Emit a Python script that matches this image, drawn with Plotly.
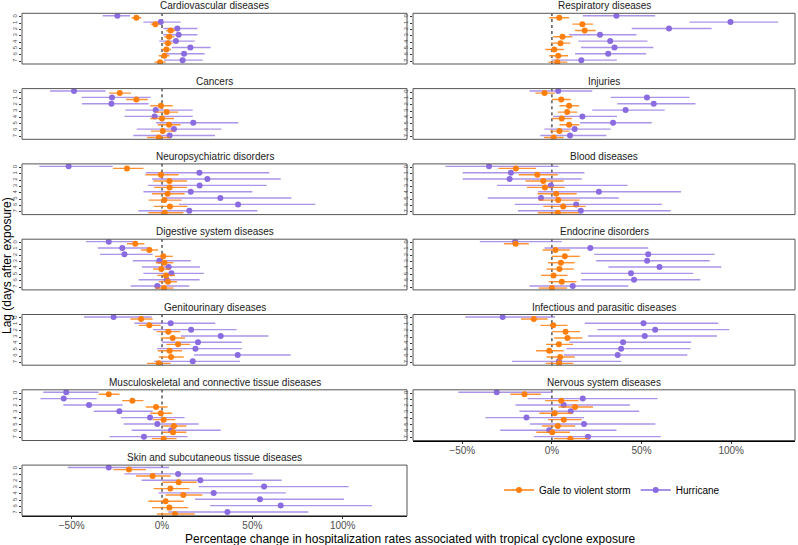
import plotly.graph_objects as go

LAGS = [0, 1, 2, 3, 4, 5, 6, 7]
X_TICKS = [-50, 0, 50, 100]
X_TICK_LABELS = ["−50%", "0%", "50%", "100%"]

# ---- Cardiovascular diseases ----
CARDIO_GALE = [-14.2, -3.7, 4.8, 3.9, 3.3, 2.4, 1.3, -1.1]
CARDIO_GALE_LO = [-16.8, -6.3, 2.2, 1.3, 0.7, -0.2, -1.8, -4.2]
CARDIO_GALE_HI = [-11.4, -1.3, 7.4, 6.8, 5.9, 5.0, 4.1, 2.0]
CARDIO_HUR = [-24.7, -0.7, 8.5, 9.2, 7.7, 15.7, 12.2, 11.4]
CARDIO_HUR_LO = [-32.8, -10.3, 0.7, 0.7, -1.5, 5.5, 0.7, 1.1]
CARDIO_HUR_HI = [-17.7, 10.3, 19.6, 19.6, 18.1, 26.9, 23.6, 22.5]

# ---- Cancers ----
CANCER_GALE = [-23.4, -14.2, -0.6, 2.6, 0.0, 3.9, 0.4, -1.8]
CANCER_GALE_LO = [-29.3, -19.9, -6.5, -3.7, -6.5, -2.4, -6.1, -8.3]
CANCER_GALE_HI = [-17.2, -7.9, 5.9, 9.0, 6.6, 10.3, 6.6, 4.4]
CANCER_HUR = [-48.7, -27.7, -28.0, -3.5, -4.1, 17.3, 6.6, 4.2]
CANCER_HUR_LO = [-62.0, -44.5, -44.3, -20.3, -20.8, -3.3, -14.0, -15.9]
CANCER_HUR_HI = [-31.2, -6.3, -7.4, 17.0, 17.0, 42.3, 32.8, 29.3]

# ---- Neuropsychiatric disorders ----
NEURO_GALE = [-19.4, -0.6, 4.1, 4.2, 3.1, 1.3, 4.4, 1.5]
NEURO_GALE_LO = [-27.1, -9.2, -4.8, -4.4, -5.5, -7.4, -4.6, -7.6]
NEURO_GALE_HI = [-10.3, 9.2, 13.8, 13.8, 12.5, 10.9, 14.0, 11.8]
NEURO_HUR = [-51.7, 20.7, 25.1, 20.8, 15.9, 32.3, 42.1, 15.1]
NEURO_HUR_LO = [-67.9, -8.9, -5.5, -7.7, -10.3, 0.0, 9.4, -13.1]
NEURO_HUR_HI = [-27.3, 59.4, 65.7, 57.9, 50.0, 71.6, 84.9, 52.8]

# ---- Digestive system diseases ----
DIGEST_GALE = [-14.8, -7.0, 0.7, 1.3, -0.4, 2.2, 3.3, 1.1]
DIGEST_GALE_LO = [-19.4, -11.6, -3.9, -3.5, -5.0, -2.6, -1.7, -3.7]
DIGEST_GALE_HI = [-9.8, -2.2, 5.9, 6.3, 4.4, 7.2, 8.3, 6.3]
DIGEST_HUR = [-29.5, -22.0, -20.8, -1.5, 3.7, 5.2, 2.6, -2.6]
DIGEST_HUR_LO = [-42.1, -35.6, -34.3, -16.2, -11.1, -10.3, -12.9, -17.3]
DIGEST_HUR_HI = [-15.3, -6.1, -5.2, 15.9, 21.0, 23.2, 20.8, 15.1]

# ---- Genitourinary diseases ----
GENITO_GALE = [-11.6, -7.0, 3.5, 5.9, 8.9, 4.2, 5.0, -1.8]
GENITO_GALE_LO = [-17.5, -12.9, -3.0, -0.6, 2.4, -2.4, -1.7, -8.3]
GENITO_GALE_HI = [-5.2, -0.7, 10.1, 12.7, 15.5, 11.1, 12.0, 4.8]
GENITO_HUR = [-26.8, 4.8, 16.1, 32.5, 19.9, 18.5, 41.9, 17.0]
GENITO_HUR_LO = [-43.2, -15.3, -5.0, 10.5, 0.0, -2.8, 17.7, -4.4]
GENITO_HUR_HI = [-5.7, 29.5, 41.3, 58.9, 44.1, 44.1, 71.2, 43.2]

# ---- Musculoskeletal and connective tissue diseases ----
MUSCULO_GALE = [-29.5, -16.4, -3.3, -0.7, 0.9, 6.6, 6.1, 0.9]
MUSCULO_GALE_LO = [-35.1, -22.1, -9.0, -6.5, -5.0, 0.6, 0.0, -5.7]
MUSCULO_GALE_HI = [-23.6, -10.3, 3.0, 5.5, 7.4, 13.5, 13.5, 8.1]
MUSCULO_HUR = [-53.0, -54.4, -40.4, -23.6, -6.6, -2.6, 5.0, -10.0]
MUSCULO_HUR_LO = [-65.7, -67.3, -54.6, -37.8, -22.7, -21.2, -16.8, -29.0]
MUSCULO_HUR_HI = [-35.1, -36.2, -21.8, -5.2, 12.5, 20.3, 32.5, 14.2]

# ---- Skin and subcutaneous tissue diseases ----
SKIN_GALE = [-18.3, -5.2, 9.2, 4.6, 11.8, 2.0, 4.1, 7.2]
SKIN_GALE_LO = [-26.9, -14.4, 0.2, -4.6, 2.0, -7.6, -5.5, -2.8]
SKIN_GALE_HI = [-8.9, 4.8, 19.2, 15.1, 22.3, 12.0, 14.6, 18.1]
SKIN_HUR = [-29.5, 8.9, 21.2, 56.5, 28.6, 54.2, 65.7, 36.2]
SKIN_HUR_LO = [-52.2, -20.8, -11.3, 20.3, -2.0, 18.3, 26.6, 3.5]
SKIN_HUR_HI = [3.9, 50.2, 66.2, 103.3, 68.5, 100.7, 116.2, 81.0]

# ---- Respiratory diseases ----
RESP_GALE = [4.1, 17.0, 18.3, 5.9, 4.8, 1.3, 3.5, 3.0]
RESP_GALE_LO = [-1.5, 11.4, 12.9, 0.7, -0.6, -3.7, -1.5, -2.0]
RESP_GALE_HI = [9.6, 22.9, 24.4, 11.4, 10.3, 6.6, 9.0, 8.5]
RESP_HUR = [36.0, 99.6, 65.3, 26.8, 32.5, 34.9, 31.4, 16.4]
RESP_HUR_LO = [17.2, 76.8, 44.5, 9.6, 14.8, 16.2, 12.9, -0.2]
RESP_HUR_HI = [57.6, 126.2, 89.1, 47.2, 53.3, 56.6, 52.6, 36.2]

# ---- Injuries ----
INJ_GALE = [-4.1, 5.2, 9.6, 8.5, 5.5, 9.6, 4.2, 0.9]
INJ_GALE_LO = [-9.2, 0.0, 4.2, 3.3, 0.2, 4.2, -1.1, -4.4]
INJ_GALE_HI = [1.7, 10.5, 15.1, 14.2, 11.1, 15.3, 9.8, 6.5]
INJ_HUR = [3.5, 53.0, 56.8, 41.1, 17.0, 34.1, 12.7, 10.1]
INJ_HUR_LO = [-12.5, 32.8, 36.5, 22.5, 0.7, 15.7, -4.2, -6.5]
INJ_HUR_HI = [22.5, 76.8, 80.1, 62.9, 36.3, 55.7, 32.8, 30.4]

# ---- Blood diseases ----
BLOOD_GALE = [-20.1, -8.1, -4.8, -3.9, 2.4, 3.5, 6.3, 3.3]
BLOOD_GALE_LO = [-29.9, -18.5, -14.8, -14.0, -8.1, -7.4, -4.8, -7.9]
BLOOD_GALE_HI = [-8.9, 3.3, 6.6, 7.2, 13.8, 15.5, 18.8, 15.1]
BLOOD_HUR = [-35.1, -22.9, -23.6, -0.6, 26.2, -6.1, 13.5, 16.1]
BLOOD_HUR_LO = [-59.4, -49.8, -49.8, -30.6, -7.7, -35.8, -20.7, -19.0]
BLOOD_HUR_HI = [3.7, 18.1, 16.6, 42.1, 72.0, 37.3, 61.4, 66.2]

# ---- Endocrine disorders ----
ENDO_GALE = [-20.3, 2.0, 7.2, 5.0, 4.2, 0.9, 5.5, 0.0]
ENDO_GALE_LO = [-26.8, -5.2, 0.0, -2.2, -3.0, -6.1, -1.8, -7.4]
ENDO_GALE_HI = [-12.9, 10.0, 15.5, 12.7, 12.2, 8.7, 13.7, 8.3]
ENDO_HUR = [-20.5, 21.4, 53.7, 53.1, 60.0, 44.1, 45.8, 11.6]
ENDO_HUR_LO = [-40.2, -4.1, 23.6, 24.7, 31.5, 16.2, 16.4, -12.5]
ENDO_HUR_HI = [5.5, 53.7, 90.8, 88.0, 94.5, 78.8, 82.8, 42.6]

# ---- Infectious and parasitic diseases ----
INFECT_GALE = [-10.1, 0.7, 7.6, 8.7, 3.9, -1.5, 4.6, 4.1]
INFECT_GALE_LO = [-17.2, -6.5, 0.2, 1.3, -3.3, -8.9, -3.0, -3.5]
INFECT_GALE_HI = [-2.4, 8.7, 15.7, 17.0, 11.8, 6.5, 12.7, 12.0]
INFECT_HUR = [-27.5, 51.1, 57.6, 51.8, 39.7, 38.6, 36.7, 3.9]
INFECT_HUR_LO = [-48.3, 18.3, 25.3, 20.1, 9.8, 8.1, 6.6, -22.3]
INFECT_HUR_HI = [1.7, 92.8, 98.9, 92.1, 77.7, 77.3, 75.5, 38.7]

# ---- Nervous system diseases ----
NERV_GALE = [-15.3, 5.2, 12.9, 1.5, 6.6, 3.3, 0.2, 10.3]
NERV_GALE_LO = [-23.2, -3.7, 3.7, -7.0, -2.2, -5.5, -8.7, 1.1]
NERV_GALE_HI = [-6.1, 14.9, 22.9, 11.1, 16.6, 12.9, 10.0, 20.3]
NERV_HUR = [-30.8, 17.2, 6.6, 10.5, -14.2, 17.9, -1.5, 20.1]
NERV_HUR_LO = [-52.2, -13.5, -20.3, -18.1, -37.1, -12.2, -28.8, -10.1]
NERV_HUR_HI = [0.2, 58.9, 43.5, 48.7, 17.9, 57.7, 36.0, 60.7]

LEFT_PANELS = [
    ("Cardiovascular diseases", CARDIO_GALE, CARDIO_GALE_LO, CARDIO_GALE_HI, CARDIO_HUR, CARDIO_HUR_LO, CARDIO_HUR_HI),
    ("Cancers", CANCER_GALE, CANCER_GALE_LO, CANCER_GALE_HI, CANCER_HUR, CANCER_HUR_LO, CANCER_HUR_HI),
    ("Neuropsychiatric disorders", NEURO_GALE, NEURO_GALE_LO, NEURO_GALE_HI, NEURO_HUR, NEURO_HUR_LO, NEURO_HUR_HI),
    ("Digestive system diseases", DIGEST_GALE, DIGEST_GALE_LO, DIGEST_GALE_HI, DIGEST_HUR, DIGEST_HUR_LO, DIGEST_HUR_HI),
    ("Genitourinary diseases", GENITO_GALE, GENITO_GALE_LO, GENITO_GALE_HI, GENITO_HUR, GENITO_HUR_LO, GENITO_HUR_HI),
    ("Musculoskeletal and connective tissue diseases", MUSCULO_GALE, MUSCULO_GALE_LO, MUSCULO_GALE_HI, MUSCULO_HUR, MUSCULO_HUR_LO, MUSCULO_HUR_HI),
    ("Skin and subcutaneous tissue diseases", SKIN_GALE, SKIN_GALE_LO, SKIN_GALE_HI, SKIN_HUR, SKIN_HUR_LO, SKIN_HUR_HI),
]
RIGHT_PANELS = [
    ("Respiratory diseases", RESP_GALE, RESP_GALE_LO, RESP_GALE_HI, RESP_HUR, RESP_HUR_LO, RESP_HUR_HI),
    ("Injuries", INJ_GALE, INJ_GALE_LO, INJ_GALE_HI, INJ_HUR, INJ_HUR_LO, INJ_HUR_HI),
    ("Blood diseases", BLOOD_GALE, BLOOD_GALE_LO, BLOOD_GALE_HI, BLOOD_HUR, BLOOD_HUR_LO, BLOOD_HUR_HI),
    ("Endocrine disorders", ENDO_GALE, ENDO_GALE_LO, ENDO_GALE_HI, ENDO_HUR, ENDO_HUR_LO, ENDO_HUR_HI),
    ("Infectious and parasitic diseases", INFECT_GALE, INFECT_GALE_LO, INFECT_GALE_HI, INFECT_HUR, INFECT_HUR_LO, INFECT_HUR_HI),
    ("Nervous system diseases", NERV_GALE, NERV_GALE_LO, NERV_GALE_HI, NERV_HUR, NERV_HUR_LO, NERV_HUR_HI),
]

SERIES_NAMES = ["Gale to violent storm", "Hurricane"]
ORANGE = "#FF7F0E"
ORANGE_BAR = "rgba(255,127,14,0.85)"
PURPLE = "#8A6BE0"
PURPLE_BAR = "rgba(138,107,224,0.72)"
FONT = "Liberation Sans, Arial"

W, H = 798, 545
PANEL_TOP0 = 13.3
PANEL_PITCH = 75.3
PANEL_H = 50.7
COLS = [(22, 407), (413, 795)]
X_RANGE = [-77.5, 135.6]
Y_RANGE = [7.45, -0.55]
DODGE = 0.16

fig = go.Figure()
layout = {}
shapes = []
annotations = []
axis_i = 0

for col, panels in enumerate([LEFT_PANELS, RIGHT_PANELS]):
    x0, x1 = COLS[col]
    for row, (title, g, glo, ghi, h, hlo, hhi) in enumerate(panels):
        axis_i += 1
        xa = "x" if axis_i == 1 else f"x{axis_i}"
        ya = "y" if axis_i == 1 else f"y{axis_i}"
        xkey = "xaxis" if axis_i == 1 else f"xaxis{axis_i}"
        ykey = "yaxis" if axis_i == 1 else f"yaxis{axis_i}"
        top = PANEL_TOP0 + PANEL_PITCH * row
        bot = top + PANEL_H
        is_bottom = row == len(panels) - 1

        # Hurricane (purple), dodged up
        fig.add_trace(go.Scatter(
            x=h, y=[l - DODGE for l in LAGS], mode="markers",
            marker=dict(color=PURPLE, size=6),
            error_x=dict(type="data", symmetric=False,
                         array=[hi - v for hi, v in zip(hhi, h)],
                         arrayminus=[v - lo for lo, v in zip(hlo, h)],
                         color=PURPLE_BAR, thickness=1.4, width=0),
            xaxis=xa, yaxis=ya, showlegend=False, name=SERIES_NAMES[1]))
        # Gale (orange), dodged down
        fig.add_trace(go.Scatter(
            x=g, y=[l + DODGE for l in LAGS], mode="markers",
            marker=dict(color=ORANGE, size=6),
            error_x=dict(type="data", symmetric=False,
                         array=[hi - v for hi, v in zip(ghi, g)],
                         arrayminus=[v - lo for lo, v in zip(glo, g)],
                         color=ORANGE_BAR, thickness=1.4, width=0),
            xaxis=xa, yaxis=ya, showlegend=False, name=SERIES_NAMES[0]))

        layout[xkey] = dict(
            domain=[x0 / W, x1 / W], range=X_RANGE, anchor=ya, automargin=False,
            showgrid=False, zeroline=False, showline=is_bottom,
            linecolor="black", linewidth=1,
            tickvals=X_TICKS, ticktext=X_TICK_LABELS,
            showticklabels=is_bottom, ticks="outside" if is_bottom else "",
            ticklen=2, tickcolor="#333333", ticklabelstandoff=-2,
            tickfont=dict(family=FONT, size=10, color="#4d4d4d"),
        )
        layout[ykey] = dict(
            domain=[1 - bot / H, 1 - top / H], range=Y_RANGE, anchor=xa, automargin=False,
            showgrid=False, zeroline=False, showline=False,
            tickvals=LAGS, ticktext=[str(l) for l in LAGS],
            ticks="outside", ticklen=2, tickcolor="#333333", tickangle=-90,
            tickfont=dict(family=FONT, size=6, color="#4d4d4d"),
        )
        # panel border
        shapes.append(dict(type="rect", xref="paper", yref="paper",
                           x0=x0 / W, x1=x1 / W, y0=1 - bot / H, y1=1 - top / H,
                           line=dict(color="#555555", width=1), layer="above"))
        # dotted zero line
        shapes.append(dict(type="line", xref=xa, yref=f"{ya} domain",
                           x0=0, x1=0, y0=0, y1=1,
                           line=dict(color="black", width=1, dash="dot"), layer="below"))
        annotations.append(dict(text=title, xref="paper", yref="paper",
                                x=(x0 + x1) / 2 / W, y=1 - (top - 7.5) / H,
                                xanchor="center", yanchor="middle", showarrow=False,
                                font=dict(family=FONT, size=10, color="#1a1a1a")))

# legend-only traces
fig.add_trace(go.Scatter(x=[None], y=[None], mode="lines+markers", name=SERIES_NAMES[0],
                         marker=dict(color=ORANGE, size=6), line=dict(color=ORANGE, width=1.4),
                         xaxis="x", yaxis="y", showlegend=True))
fig.add_trace(go.Scatter(x=[None], y=[None], mode="lines+markers", name=SERIES_NAMES[1],
                         marker=dict(color=PURPLE, size=6), line=dict(color=PURPLE, width=1.4),
                         xaxis="x", yaxis="y", showlegend=True))

annotations.append(dict(text="Percentage change in hospitalization rates associated with tropical cyclone exposure",
                        xref="paper", yref="paper", x=410 / W, y=1 - 539 / H,
                        xanchor="center", yanchor="middle", showarrow=False,
                        font=dict(family=FONT, size=12, color="black")))
annotations.append(dict(text="Lag (days after exposure)", xref="paper", yref="paper",
                        x=7 / W, y=1 - 266 / H, textangle=-90,
                        xanchor="center", yanchor="middle", showarrow=False,
                        font=dict(family=FONT, size=12, color="black")))

fig.update_layout(
    width=W, height=H, autosize=False,
    margin=dict(l=0, r=0, t=0, b=0, autoexpand=False),
    paper_bgcolor="white", plot_bgcolor="white",
    shapes=shapes, annotations=annotations,
    showlegend=True,
    legend=dict(orientation="h", x=612 / W, y=1 - 490 / H, xanchor="center", yanchor="middle",
                font=dict(family=FONT, size=10, color="black"),
                bgcolor="rgba(0,0,0,0)", itemwidth=30, tracegroupgap=0),
    **layout,
)

fig.write_html(
    "out.html",
    config={"responsive": False, "displayModeBar": False},
    post_script="document.body.style.margin='0';document.body.style.padding='0';document.body.style.overflow='hidden';",
)
